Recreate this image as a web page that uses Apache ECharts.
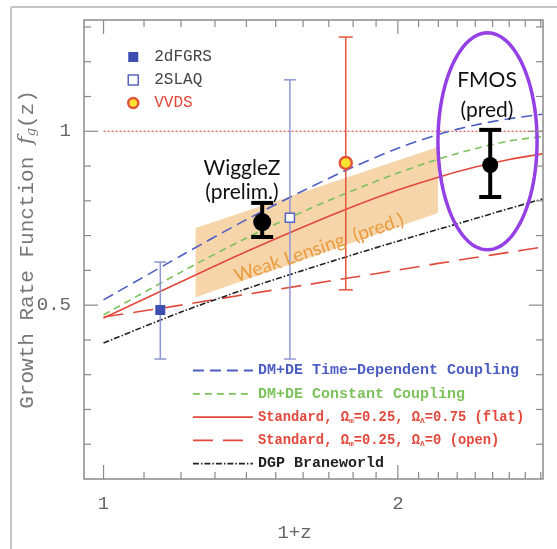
<!DOCTYPE html>
<html>
<head>
<meta charset="utf-8">
<title>Growth Rate Function</title>
<script src="https://cdn.jsdelivr.net/npm/echarts@6/dist/echarts.min.js"></script>
</head>
<body style="margin:0;background:#fff">
<div id="box" style="width:557px;height:549px;"></div>
<script>
// model curves (x = 1+z)
var xModel = [1, 1.2, 1.4, 1.6, 1.8, 2.0, 2.2, 2.4, 2.6, 2.81]
var yTimeDep = [0.515, 0.642, 0.746, 0.829, 0.897, 0.951, 0.991, 1.018, 1.036, 1.049]
var yConst = [0.472, 0.595, 0.693, 0.769, 0.830, 0.880, 0.920, 0.950, 0.972, 0.985]
var yFlat = [0.463, 0.567, 0.654, 0.725, 0.784, 0.831, 0.868, 0.897, 0.919, 0.935]
var yOpen = [0.466, 0.500, 0.531, 0.557, 0.580, 0.601, 0.620, 0.637, 0.652, 0.667]
var yDGP = [0.391, 0.480, 0.547, 0.600, 0.645, 0.684, 0.718, 0.749, 0.778, 0.805]
var unityX = [1, 2.815]
var unityY = [1, 1]

// measurements
var surveys = ['2dFGRS', '2SLAQ', 'VVDS', 'WiggleZ', 'FMOS']
var surveyX = [1.143, 1.551, 1.769, 1.453, 2.486]
var surveyY = [0.486, 0.751, 0.909, 0.739, 0.903]
var surveyLo = [0.345, 0.345, 0.544, 0.696, 0.811]
var surveyHi = [0.624, 1.148, 1.271, 0.794, 1.004]

// weak lensing prediction band (two ends)
var lensX = [1.242, 2.198]
var lensLo = [0.523, 0.765]
var lensHi = [0.722, 0.955]

// FMOS ellipse box: x left, x right, y bottom, y top
var fmosBox = [2.198, 2.776, 0.659, 1.283]

// ticks
var xTicks = [1, 1.1, 1.2, 1.3, 1.4, 1.5, 1.6, 1.7, 1.8, 1.9, 2, 2.1, 2.2, 2.3, 2.4, 2.5, 2.6, 2.7, 2.8]
var xMajor = [1, 2]
var yTicks = [0.1, 0.2, 0.3, 0.4, 0.5, 0.6, 0.7, 0.8, 0.9, 1, 1.1, 1.2, 1.3]
var yMajor = [0.5, 1]

var modelNames = ['DM+DE Time\u2212Dependent Coupling', 'DM+DE Constant Coupling',
  'Standard, flat', 'Standard, open', 'DGP Braneworld']
var modelLabels = {
  'Standard, flat': '{r|Standard, }{o|\u03a9}{s|m}{r|=0.25, }{o|\u03a9}{s|\u039b}{r|=0.75 (flat)}',
  'Standard, open': '{r|Standard, }{o|\u03a9}{s|m}{r|=0.25, }{o|\u03a9}{s|\u039b}{r|=0 (open)}'
}

var lineColor = ['#4d5ec2', '#7cc15c', '#e2483b', '#e2483b', '#222']
var lineDash = [[11, 6], [7, 5], 'solid', [20, 10], [6, 2, 1.5, 2]]
var modelY = [yTimeDep, yConst, yFlat, yOpen, yDGP]

var markStyle = [
  { symbol: 'rect', size: 10, color: '#3e4db0', border: '#3e4db0', bw: 0, bar: '#8f97d2', barW: 1.5, cap: 12 },
  { symbol: 'rect', size: 9, color: '#fff', border: '#5566c4', bw: 1.5, bar: '#8f97d2', barW: 1.5, cap: 12 },
  { symbol: 'circle', size: 12, color: '#ffe22e', border: '#e2553a', bw: 2.5, bar: '#e2553a', barW: 1.5, cap: 14 },
  { symbol: 'circle', size: 18, color: '#000', border: '#000', bw: 0, bar: '#000', barW: 4, cap: 22 },
  { symbol: 'circle', size: 16, color: '#000', border: '#000', bw: 0, bar: '#000', barW: 4, cap: 22 }
]

function zip(xs, ys) {
  return xs.map(function (x, i) { return [x, ys[i]] })
}

var mCharts = echarts.init(document.getElementById('box'))

var series = []

// weak lensing band
series.push({
  type: 'custom', name: 'lens', z: 1, silent: true,
  encode: { x: [0, 1], y: [2, 3, 4, 5] },
  data: [[lensX[0], lensX[1], lensLo[0], lensHi[0], lensLo[1], lensHi[1]]],
  renderItem: function (params, api) {
    var a = api.coord([api.value(0), api.value(2)])
    var b = api.coord([api.value(0), api.value(3)])
    var c = api.coord([api.value(1), api.value(5)])
    var d = api.coord([api.value(1), api.value(4)])
    return { type: 'polygon', shape: { points: [a, b, c, d] }, style: { fill: '#f6d5ab' } }
  }
})

// model lines
modelNames.forEach(function (n, i) {
  series.push({
    type: 'line', name: n, z: 3, symbol: 'none', smooth: 0.3, silent: true,
    data: zip(xModel, modelY[i]),
    lineStyle: { color: lineColor[i], width: 1.6, type: lineDash[i] },
    itemStyle: { color: lineColor[i] }
  })
})

series.push({
  type: 'line', name: 'unity', z: 2, symbol: 'none', silent: true,
  data: zip(unityX, unityY),
  lineStyle: { color: '#e25555', width: 1.2, type: [2, 2] }
})

// error bars + markers
surveys.forEach(function (n, i) {
  var st = markStyle[i]
  series.push({
    type: 'custom', name: n + ' err', z: 4, silent: true,
    encode: { x: 0, y: [1, 2] },
    data: [[surveyX[i], surveyLo[i], surveyHi[i]]],
    renderItem: function (params, api) {
      var lo = api.coord([api.value(0), api.value(1)])
      var hi = api.coord([api.value(0), api.value(2)])
      var s = { stroke: st.bar, lineWidth: st.barW }
      var h = st.cap / 2
      return {
        type: 'group', children: [
          { type: 'line', shape: { x1: lo[0], y1: lo[1], x2: hi[0], y2: hi[1] }, style: s },
          { type: 'line', shape: { x1: lo[0] - h, y1: lo[1], x2: lo[0] + h, y2: lo[1] }, style: s },
          { type: 'line', shape: { x1: hi[0] - h, y1: hi[1], x2: hi[0] + h, y2: hi[1] }, style: s }
        ]
      }
    }
  })
  series.push({
    type: 'scatter', name: n, z: 5, silent: true,
    symbol: st.symbol, symbolSize: st.size,
    data: [[surveyX[i], surveyY[i]]],
    itemStyle: { color: st.color, borderColor: st.border, borderWidth: st.bw, opacity: 1 }
  })
})

// FMOS ellipse
series.push({
  type: 'custom', name: 'fmosRing', z: 6, silent: true,
  encode: { x: [0, 1], y: [2, 3] },
  data: [fmosBox],
  renderItem: function (params, api) {
    var tl = api.coord([api.value(0), api.value(3)])
    var br = api.coord([api.value(1), api.value(2)])
    var cx = (tl[0] + br[0]) / 2, cy = (tl[1] + br[1]) / 2
    var rx = (br[0] - tl[0]) / 2, ry = (br[1] - tl[1]) / 2
    var pts = []
    for (var k = 0; k < 96; k++) {
      var t = k / 96 * Math.PI * 2
      pts.push([cx + rx * Math.cos(t), cy + ry * Math.sin(t)])
    }
    return { type: 'polygon', shape: { points: pts }, style: { fill: 'none', stroke: '#9440e4', lineWidth: 3.5 } }
  }
})

// box ticks on all four sides, pointing inward
var tickStyle = { stroke: '#8a8a8a', lineWidth: 1.2 }
series.push({
  type: 'custom', name: 'xticks', z: 7, silent: true,
  encode: { x: 0, y: 1 },
  data: xTicks.map(function (v) { return [v, 0.5] }),
  renderItem: function (params, api) {
    var cs = params.coordSys
    var v = api.value(0)
    var p = api.coord([v, 0.5])
    var len = xMajor.indexOf(v) >= 0 ? 14 : 7
    var b = cs.y + cs.height
    return {
      type: 'group', children: [
        { type: 'line', shape: { x1: p[0], y1: b, x2: p[0], y2: b - len }, style: tickStyle },
        { type: 'line', shape: { x1: p[0], y1: cs.y, x2: p[0], y2: cs.y + len }, style: tickStyle }
      ]
    }
  }
})
series.push({
  type: 'custom', name: 'yticks', z: 7, silent: true,
  encode: { x: 0, y: 1 },
  data: yTicks.map(function (v) { return [1.5, v] }),
  renderItem: function (params, api) {
    var cs = params.coordSys
    var v = api.value(1)
    var p = api.coord([1.5, v])
    var len = yMajor.indexOf(v) >= 0 ? 14 : 7
    var r = cs.x + cs.width
    return {
      type: 'group', children: [
        { type: 'line', shape: { x1: cs.x, y1: p[1], x2: cs.x + len, y2: p[1] }, style: tickStyle },
        { type: 'line', shape: { x1: r, y1: p[1], x2: r - len, y2: p[1] }, style: tickStyle }
      ]
    }
  }
})

var mono = 'Liberation Mono'
var gill = 'Lato'
var clear = 'rgba(0,0,0,0)'

var option = {
  animation: false,
  backgroundColor: '#fff',
  grid: {
    left: 84, top: 20, right: 14, bottom: 70, outerBoundsMode: 'none',
    show: true, borderColor: '#8a8a8a', borderWidth: 1.5
  },
  xAxis: {
    type: 'log', logBase: 2, min: 0.955, max: 2.815,
    axisLine: { show: false }, axisTick: { show: false }, splitLine: { show: false },
    axisLabel: {
      margin: 15, color: '#666', fontFamily: mono, fontSize: 19,
      formatter: function (v) {
        return xMajor.some(function (m) { return Math.abs(m - v) < 1e-6 }) ? String(Math.round(v)) : ''
      }
    },
    name: '1+z', nameLocation: 'middle', nameGap: 44, nameMoveOverlap: false,
    nameTextStyle: { color: '#666', fontFamily: mono, fontSize: 19, padding: [0, 38, 0, 0] }
  },
  yAxis: {
    type: 'value', min: 0, max: 1.32, interval: 0.5,
    axisLine: { show: false }, axisTick: { show: false }, splitLine: { show: false },
    axisLabel: {
      margin: 13, color: '#666', fontFamily: mono, fontSize: 19,
      formatter: function (v) {
        return yMajor.some(function (m) { return Math.abs(m - v) < 1e-6 }) ? String(v) : ''
      }
    },
    name: '{t|Growth Rate Function }{i|f}{s|g}{t|(z)}', nameLocation: 'middle', nameGap: 46,
    nameMoveOverlap: false,
    nameTextStyle: {
      color: '#666',
      rich: {
        t: { fontFamily: mono, fontSize: 21, color: '#777', lineHeight: 22 },
        i: { fontFamily: 'DejaVu Serif', fontStyle: 'italic', fontSize: 21, color: '#777', lineHeight: 22 },
        s: { fontFamily: 'DejaVu Serif', fontStyle: 'italic', fontSize: 13, color: '#777', lineHeight: 22, verticalAlign: 'bottom' }
      }
    }
  },
  legend: [
    {
      orient: 'vertical', left: 122, top: 44, itemWidth: 10, itemHeight: 10, itemGap: 7,
      selectedMode: false,
      textStyle: { fontFamily: mono, fontSize: 16, lineHeight: 16, color: '#444', padding: [0, 0, 0, 11] },
      data: [0, 1, 2].map(function (i) {
        var st = markStyle[i]
        return {
          name: surveys[i], icon: st.symbol === 'rect' ? 'rect' : 'circle',
          itemStyle: { color: st.color, borderColor: st.border, borderWidth: st.bw },
          textStyle: { color: i === 2 ? '#e2483b' : '#444' }
        }
      })
    },
    {
      orient: 'vertical', left: 187, top: 358, itemWidth: 60, itemHeight: 14, itemGap: 8.3,
      selectedMode: false,
      formatter: function (name) { return modelLabels[name] || name },
      textStyle: {
        fontFamily: mono, fontSize: 15, fontWeight: 'bold', lineHeight: 15,
        rich: {
          r: { fontFamily: mono, fontSize: 13.8, fontWeight: 'bold', lineHeight: 15 },
          o: { fontFamily: mono, fontSize: 13.8, fontWeight: 'bold', lineHeight: 15 },
          s: { fontFamily: mono, fontSize: 8, fontWeight: 'bold', lineHeight: 15, verticalAlign: 'bottom' }
        }
      },
      data: modelNames.map(function (n, i) {
        return {
          name: n,
          itemStyle: { color: clear, borderColor: clear, borderWidth: 0 },
          lineStyle: { color: lineColor[i], width: 1.8, type: lineDash[i] },
          textStyle: { color: lineColor[i] }
        }
      })
    }
  ],
  graphic: [
    { type: 'line', z: 100, shape: { x1: 11, y1: 7, x2: 557, y2: 7 }, style: { stroke: '#c4c4c4', lineWidth: 2 } },
    { type: 'line', z: 100, shape: { x1: 11, y1: 7, x2: 11, y2: 549 }, style: { stroke: '#c4c4c4', lineWidth: 2 } },
    { type: 'text', z: 100, x: 242, y: 168, style: { text: 'WiggleZ', font: '21px ' + gill, fill: '#111', align: 'center', verticalAlign: 'middle' } },
    { type: 'text', z: 100, x: 242, y: 192, style: { text: '(prelim.)', font: '21px ' + gill, fill: '#111', align: 'center', verticalAlign: 'middle' } },
    { type: 'text', z: 100, x: 487, y: 80, style: { text: 'FMOS', font: '21px ' + gill, fill: '#111', align: 'center', verticalAlign: 'middle' } },
    { type: 'text', z: 100, x: 487, y: 110, style: { text: '(pred)', font: '21px ' + gill, fill: '#111', align: 'center', verticalAlign: 'middle' } },
    { type: 'text', z: 100, x: 319, y: 248, rotation: 0.33, style: { text: 'Weak Lensing  (pred.)', font: '19px ' + gill, fill: '#ea9b3e', align: 'center', verticalAlign: 'middle' } }
  ],
  series: series
}
mCharts.setOption(option)
</script>
</body>
</html>
